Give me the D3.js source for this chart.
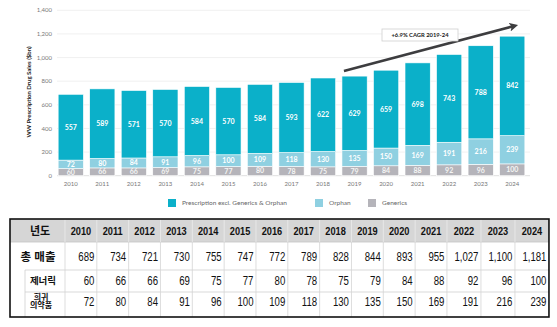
<!DOCTYPE html>
<html>
<head>
<meta charset="utf-8">
<script src="https://d3js.org/d3.v7.min.js"></script>
<style>
  body { margin: 0; background: #fff; }
  svg { display: block; }
  .ax text { font: 6px Lato, sans-serif; fill: #777; }
  .seg text { font: bold 7px Lato, sans-serif; fill: #fff; text-anchor: middle; }
  .leg text { font: 6.5px Lato, sans-serif; fill: #666; }
  .tbl text { font-family: "Liberation Sans", "Noto Sans CJK KR", sans-serif; fill: #111; }
</style>
</head>
<body>
<svg id="chart" width="557" height="327"></svg>
<script>
var years = ["2010","2011","2012","2013","2014","2015","2016","2017","2018","2019","2020","2021","2022","2023","2024"];
var prescription = [557,589,571,570,584,570,584,593,622,629,659,698,743,788,842];
var orphan = [72,80,84,91,96,100,109,118,130,135,150,169,191,216,239];
var generics = [60,66,66,69,75,77,80,78,75,79,84,88,92,96,100];
var totals = [689,734,721,730,755,747,772,789,828,844,893,955,1027,1100,1181];
var yTicks = [0,200,400,600,800,1000,1200,1400];
var seriesNames = ["Prescription excl. Generics & Orphan","Orphan","Generics"];
var cagrText = "+6.9% CAGR 2019-24";
var cagrFrom = {year: "2019", value: 886};
var cagrTo = {year: "2024", value: 1276};
var rowLabels = ["총 매출","제너릭","희귀\n의약품"];

var svg = d3.select("#chart");
var colors = {gen: "#b5b4ba", orph: "#8fd0e1", pres: "#0bb0c9"};

var x = d3.scaleBand().domain(years).range([55, 528]).paddingInner(0.2).paddingOuter(0.1);
var y = d3.scaleLinear().domain([0, 1400]).range([175.7, 10.3]);

// gridlines + y labels
var ax = svg.append("g").attr("class", "ax");
ax.selectAll("line").data(yTicks).enter().append("line")
  .attr("x1", 57).attr("x2", 530)
  .attr("y1", function(d){ return y(d); }).attr("y2", function(d){ return y(d); })
  .attr("stroke", function(d){ return d === 0 ? "#d6d6d6" : "#ececec"; }).attr("stroke-width", 0.8);
ax.selectAll("text.yl").data(yTicks).enter().append("text").attr("class", "yl")
  .attr("x", 52).attr("y", function(d){ return y(d); }).attr("dy", "0.35em")
  .attr("text-anchor", "end").text(d3.format(","));
ax.selectAll("text.xl").data(years).enter().append("text").attr("class", "xl")
  .attr("x", function(d){ return x(d) + x.bandwidth()/2; }).attr("y", 186)
  .attr("text-anchor", "middle").text(function(d){ return d; });
svg.append("text").attr("transform", "translate(31,92) rotate(-90)")
  .attr("text-anchor", "middle").style("font", "bold 6px Lato, sans-serif").style("fill", "#222")
  .text("WW Prescription Drug Sales ($bn)");

// stacked bars
var rows = years.map(function(yr, i){ return {year: yr, gen: generics[i], orph: orphan[i], pres: prescription[i]}; });
var stack = d3.stack().keys(["gen","orph","pres"])(rows);
var seg = svg.append("g").attr("class", "seg");
stack.forEach(function(layer){
  var g = seg.append("g");
  g.selectAll("rect").data(layer).enter().append("rect")
    .attr("x", function(d){ return x(d.data.year); })
    .attr("width", x.bandwidth())
    .attr("y", function(d){ return y(d[1]); })
    .attr("height", function(d){ return y(d[0]) - y(d[1]); })
    .attr("fill", colors[layer.key]).attr("stroke", "#fff").attr("stroke-width", 0.6);
  g.selectAll("text").data(layer).enter().append("text")
    .attr("x", function(d){ return x(d.data.year) + x.bandwidth()/2; })
    .attr("y", function(d){ return (y(d[0]) + y(d[1]))/2; }).attr("dy", "0.36em")
    .style("fill", layer.key === "gen" ? "#f4f4f4" : "#fff")
    .text(function(d){ return d.data[layer.key]; });
});

// CAGR arrow
var ax1 = x(cagrFrom.year) + 2, ay1 = y(cagrFrom.value);
var ax2 = x(cagrTo.year) + x.bandwidth()*0.72, ay2 = y(cagrTo.value);
svg.append("defs").append("marker").attr("id", "ah")
  .attr("viewBox", "0 0 10 10").attr("refX", 5).attr("refY", 5)
  .attr("markerWidth", 3.4).attr("markerHeight", 3.4).attr("orient", "auto")
  .append("path").attr("d", "M0,0 L10,5 L0,10 L2.5,5 Z").attr("fill", "#3d3d3f");
svg.append("line").attr("x1", ax1).attr("y1", ay1).attr("x2", ax2 - 4).attr("y2", ay2 + 1.1)
  .attr("stroke", "#3d3d3f").attr("stroke-width", 2.6).attr("marker-end", "url(#ah)");
svg.append("rect").attr("x", 382).attr("y", 29).attr("width", 76).attr("height", 12)
  .attr("fill", "#fff").attr("stroke", "#cfcfcf").attr("stroke-width", 0.8);
svg.append("text").attr("x", 420).attr("y", 35).attr("dy", "0.35em").attr("text-anchor", "middle")
  .style("font", "bold 5.8px Lato, sans-serif").style("fill", "#222").text(cagrText);

// legend
var legX = [168, 315, 368];
var leg = svg.append("g").attr("class", "leg");
[colors.pres, colors.orph, colors.gen].forEach(function(c, i){
  leg.append("rect").attr("x", legX[i]).attr("y", 199).attr("width", 8).attr("height", 8).attr("fill", c);
  leg.append("text").attr("x", legX[i] + 14).attr("y", 203).attr("dy", "0.35em").text(seriesNames[i]);
});

// table
var tbl = svg.append("g").attr("class", "tbl");
var colW = years.map(function(yr, i){ return i < 12 ? 31.83 : 34; });
var colX = [65];
colW.forEach(function(w, i){ colX.push(colX[i] + w); });
var rowY = [219, 242, 270, 292, 317];
var L = 10, R = colX[colX.length - 1];

// squeeze text horizontally like the narrow table font
function narrow(sel, k){
  sel.each(function(){
    var w = this.getComputedTextLength();
    d3.select(this).attr("textLength", w * k).attr("lengthAdjust", "spacingAndGlyphs");
  });
}

tbl.append("rect").attr("x", L).attr("y", rowY[0]).attr("width", R - L).attr("height", rowY[1] - rowY[0]).attr("fill", "#d6d6d6");
tbl.append("line").attr("x1", L).attr("x2", R).attr("y1", rowY[1]).attr("y2", rowY[1]).attr("stroke", "#c4c4c4").attr("stroke-width", 0.8);
[rowY[2], rowY[3]].forEach(function(yy){
  tbl.append("line").attr("x1", 25).attr("x2", R).attr("y1", yy).attr("y2", yy).attr("stroke", "#cfcfcf").attr("stroke-width", 0.8);
});
colX.slice(0, -1).forEach(function(xx){
  tbl.append("line").attr("x1", xx).attr("x2", xx).attr("y1", rowY[0]).attr("y2", rowY[1]).attr("stroke", "#ececec").attr("stroke-width", 0.8);
  tbl.append("line").attr("x1", xx).attr("x2", xx).attr("y1", rowY[1]).attr("y2", rowY[4]).attr("stroke", "#d4d4d4").attr("stroke-width", 0.8);
});
tbl.append("line").attr("x1", 25).attr("x2", 25).attr("y1", rowY[2]).attr("y2", rowY[4]).attr("stroke", "#cfcfcf").attr("stroke-width", 0.8);
tbl.append("rect").attr("x", L).attr("y", rowY[0]).attr("width", R - L).attr("height", rowY[4] - rowY[0])
  .attr("fill", "none").attr("stroke", "#111").attr("stroke-width", 1.6);

// header
tbl.append("text").attr("x", 40).attr("y", 231).attr("dy", "0.35em").attr("text-anchor", "middle")
  .style("font-weight", "bold").style("font-size", "11px").text("년도");
years.forEach(function(yr, i){
  tbl.append("text").attr("class", "hd").attr("x", colX[i] + colW[i]/2).attr("y", 231).attr("dy", "0.35em").attr("text-anchor", "middle")
    .style("font-weight", "bold").style("font-size", "11.5px").text(yr);
});
narrow(tbl.selectAll("text.hd"), 0.8);
// row labels
tbl.append("text").attr("x", 38).attr("y", 257).attr("dy", "0.35em").attr("text-anchor", "middle")
  .style("font-weight", "bold").style("font-size", "11.5px").text(rowLabels[0]);
tbl.append("text").attr("x", 43).attr("y", 281).attr("dy", "0.35em").attr("text-anchor", "middle")
  .style("font-weight", "bold").style("font-size", "9.5px").text(rowLabels[1]);
var t3 = tbl.append("text").attr("text-anchor", "middle").style("font-weight", "bold").style("font-size", "8px");
rowLabels[2].split("\n").forEach(function(s, k){
  t3.append("tspan").attr("x", k === 0 ? 41 : 41).attr("y", k === 0 ? 299.5 : 307.5).text(s);
});
// values
var fmt = d3.format(",");
[[totals, 257], [generics, 281], [orphan, 302]].forEach(function(r){
  r[0].forEach(function(v, i){
    tbl.append("text").attr("class", "val").attr("x", colX[i + 1] - 2.5).attr("y", r[1]).attr("dy", "0.35em").attr("text-anchor", "end")
      .style("font-size", "12px").text(fmt(v));
  });
});
narrow(tbl.selectAll("text.val"), 0.8);
</script>
</body>
</html>
